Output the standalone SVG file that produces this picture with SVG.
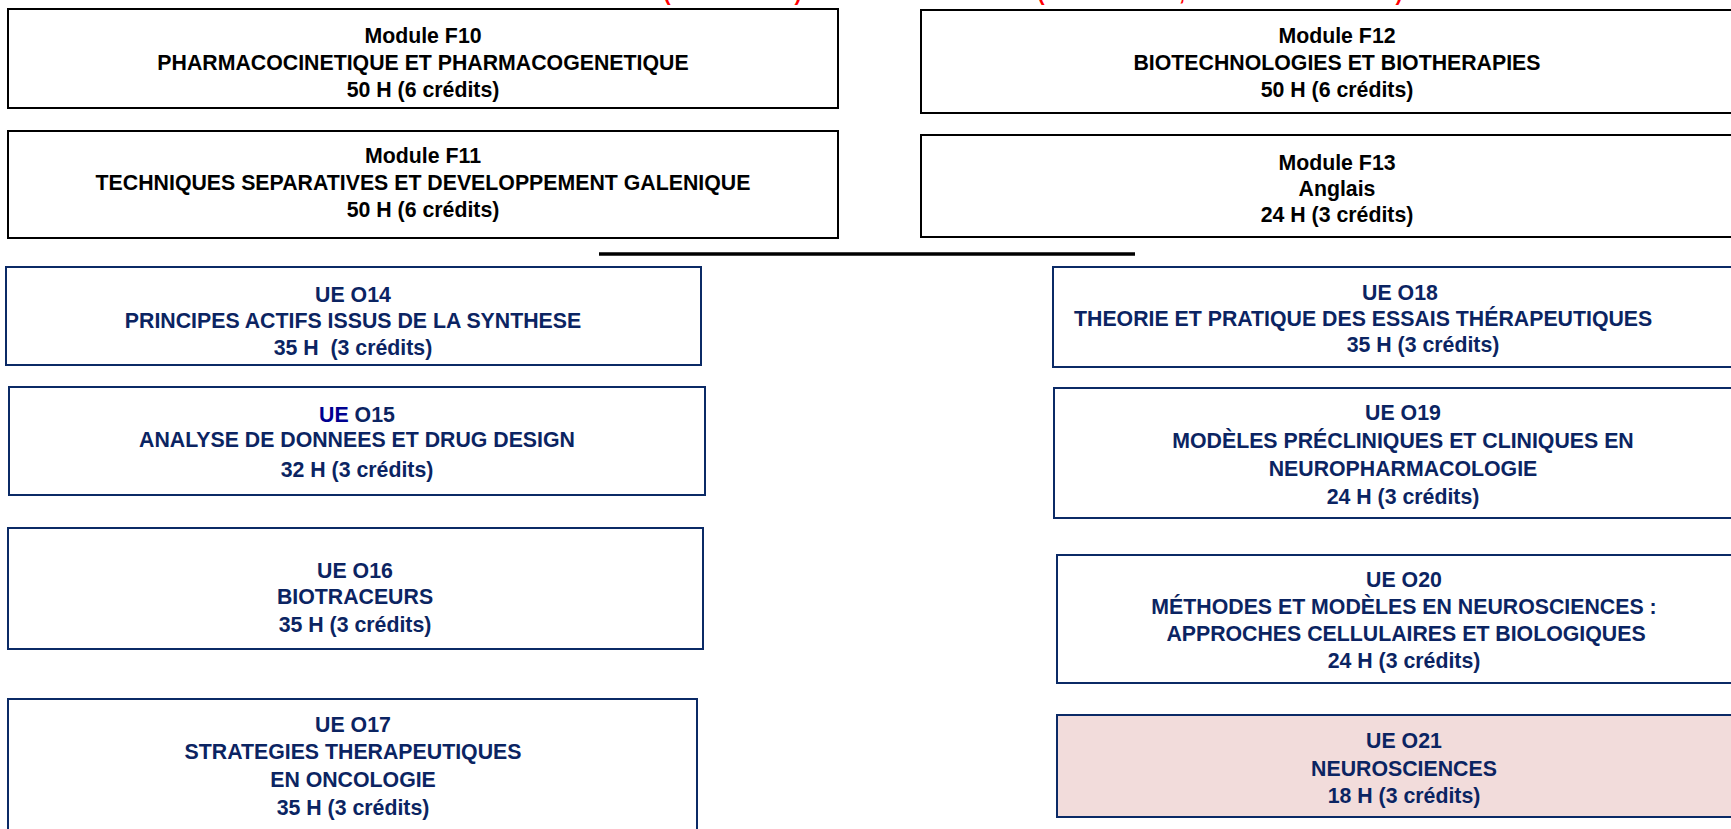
<svg xmlns="http://www.w3.org/2000/svg" width="1731" height="829" viewBox="0 0 1731 829">
<style>
text{font-family:"Liberation Sans",Arial,sans-serif;font-weight:bold;font-size:21.3px;text-anchor:middle;white-space:pre}
.mod rect{fill:#fff;stroke:#000;stroke-width:2}
.mod text{fill:#000}
.ue rect{fill:#fff;stroke:#0b2a66;stroke-width:2}
.ue text{fill:#0b2462}
.ue rect.pink{fill:#f2dcdb}
.red{fill:#ff0000}
</style>
<rect width="1731" height="829" fill="#fff"/>
<g id="top-red">
<text class="red" x="667" y="0">(</text>
<text class="red" x="798" y="0">)</text>
<text class="red" x="1041" y="0">(</text>
<text class="red" x="1182" y="0">,</text>
<text class="red" x="1399" y="0">)</text>
</g>
<g id="F10" class="mod">
<rect x="8" y="9" width="830" height="99"/>
<text x="423" y="43">Module F10</text>
<text x="423" y="70">PHARMACOCINETIQUE ET PHARMACOGENETIQUE</text>
<text x="423" y="97">50 H (6 crédits)</text>
</g>
<g id="F11" class="mod">
<rect x="8" y="131" width="830" height="107"/>
<text x="423" y="163">Module F11</text>
<text x="423" y="190">TECHNIQUES SEPARATIVES ET DEVELOPPEMENT GALENIQUE</text>
<text x="423" y="217">50 H (6 crédits)</text>
</g>
<g id="F12" class="mod">
<rect x="921" y="10" width="832" height="103"/>
<text x="1337" y="43">Module F12</text>
<text x="1337" y="70">BIOTECHNOLOGIES ET BIOTHERAPIES</text>
<text x="1337" y="97">50 H (6 crédits)</text>
</g>
<g id="F13" class="mod">
<rect x="921" y="135" width="832" height="102"/>
<text x="1337" y="170">Module F13</text>
<text x="1337" y="196">Anglais</text>
<text x="1337" y="222">24 H (3 crédits)</text>
</g>
<g id="connectors">
<line x1="599" y1="254" x2="1135" y2="254" stroke="#000" stroke-width="3.5"/>
</g>
<g id="O14" class="ue">
<rect x="6" y="267" width="695" height="98"/>
<text x="353" y="302">UE O14</text>
<text x="353" y="328">PRINCIPES ACTIFS ISSUS DE LA SYNTHESE</text>
<text x="353" y="355">35 H  (3 crédits)</text>
</g>
<g id="O15" class="ue">
<rect x="9" y="387" width="696" height="108"/>
<text x="357" y="422"><tspan fill="#000090">UE</tspan> O15</text>
<text x="357" y="447">ANALYSE DE DONNEES ET DRUG DESIGN</text>
<text x="357" y="477">32 H (3 crédits)</text>
</g>
<g id="O16" class="ue">
<rect x="8" y="528" width="695" height="121"/>
<text x="355" y="578">UE O16</text>
<text x="355" y="604">BIOTRACEURS</text>
<text x="355" y="632">35 H (3 crédits)</text>
</g>
<g id="O17" class="ue">
<rect x="8" y="699" width="689" height="140"/>
<text x="353" y="732">UE O17</text>
<text x="353" y="759">STRATEGIES THERAPEUTIQUES</text>
<text x="353" y="787">EN ONCOLOGIE</text>
<text x="353" y="815">35 H (3 crédits)</text>
</g>
<g id="O18" class="ue">
<rect x="1053" y="267" width="700" height="100"/>
<text x="1400" y="300">UE O18</text>
<text x="1074" y="326" style="text-anchor:start">THEORIE ET PRATIQUE DES ESSAIS THÉRAPEUTIQUES</text>
<text x="1423" y="352">35 H (3 crédits)</text>
</g>
<g id="O19" class="ue">
<rect x="1054" y="388" width="699" height="130"/>
<text x="1403" y="420">UE O19</text>
<text x="1403" y="448">MODÈLES PRÉCLINIQUES ET CLINIQUES EN</text>
<text x="1403" y="476">NEUROPHARMACOLOGIE</text>
<text x="1403" y="504">24 H (3 crédits)</text>
</g>
<g id="O20" class="ue">
<rect x="1057" y="555" width="696" height="128"/>
<text x="1404" y="587">UE O20</text>
<text x="1404" y="614">MÉTHODES ET MODÈLES EN NEUROSCIENCES :</text>
<text x="1406" y="641">APPROCHES CELLULAIRES ET BIOLOGIQUES</text>
<text x="1404" y="668">24 H (3 crédits)</text>
</g>
<g id="O21" class="ue">
<rect class="pink" x="1057" y="715" width="696" height="102"/>
<text x="1404" y="748">UE O21</text>
<text x="1404" y="776">NEUROSCIENCES</text>
<text x="1404" y="803">18 H (3 crédits)</text>
</g>
</svg>
